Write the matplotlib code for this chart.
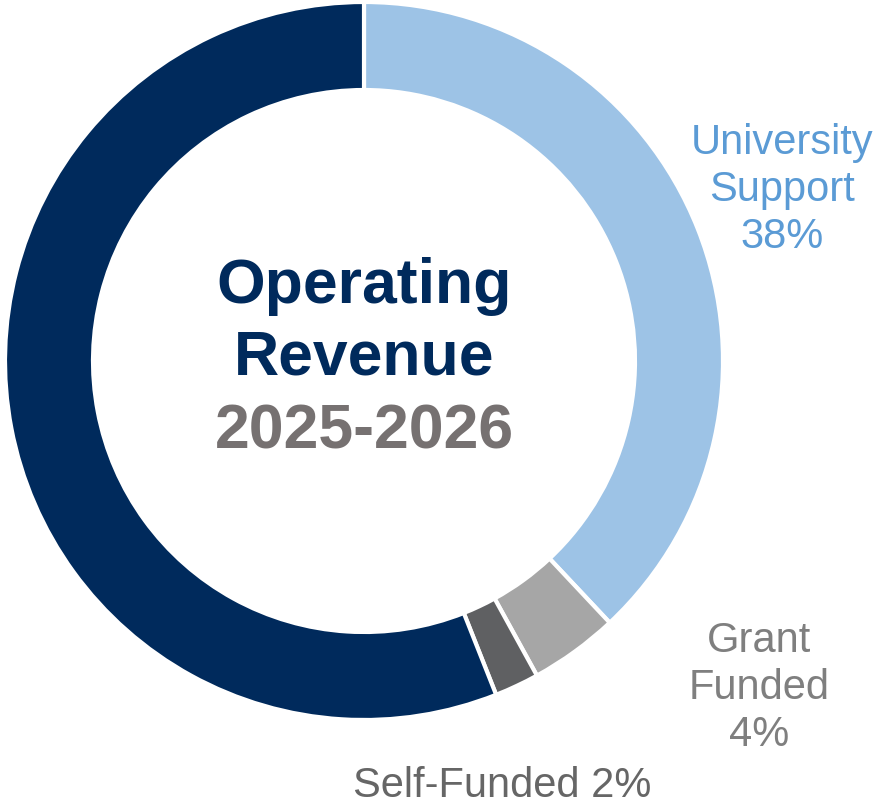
import matplotlib.pyplot as plt

plt.rcParams['font.family'] = ['Liberation Sans', 'DejaVu Sans']

# slices, clockwise from 12 o'clock
categories = ["University Support", "Grant Funded", "Self-Funded", "Other"]
shares = [38, 4, 2, 56]
colors = ["#9DC3E6", "#A6A6A6", "#5F6062", "#002A5C"]

W, H = 877, 808
fig = plt.figure(figsize=(W / 100, H / 100), dpi=100)
ax = fig.add_axes([0, 0, 1, 1])

cx, cy, r = 364, H - 361, 359
ax.pie(shares, colors=colors, startangle=90, counterclock=False,
       center=(cx, cy), radius=r, frame=True,
       wedgeprops=dict(width=88, edgecolor="white", linewidth=3))
ax.set_xlim(0, W)
ax.set_ylim(0, H)
ax.set_aspect("equal")
ax.axis("off")

# centre title
ax.text(cx, H - 286, "Operating", ha="center", va="center",
        fontsize=45, fontweight="bold", color="#002A5C")
ax.text(cx, H - 358, "Revenue", ha="center", va="center",
        fontsize=45, fontweight="bold", color="#002A5C")
ax.text(cx, H - 432, "2025-2026", ha="center", va="center",
        fontsize=45, fontweight="bold", color="#767171")

# slice labels
ax.text(782, H - 190, f"University\nSupport\n{shares[0]}%",
        ha="center", va="center", fontsize=30, color="#5B9BD5",
        linespacing=1.21)
ax.text(759, H - 688, f"Grant\nFunded\n{shares[1]}%",
        ha="center", va="center", fontsize=30, color="#7F7F7F",
        linespacing=1.21)
ax.text(502, H - 786, f"{categories[2]} {shares[2]}%",
        ha="center", va="center", fontsize=30, color="#666666")

fig.savefig("out.png", dpi=100)
